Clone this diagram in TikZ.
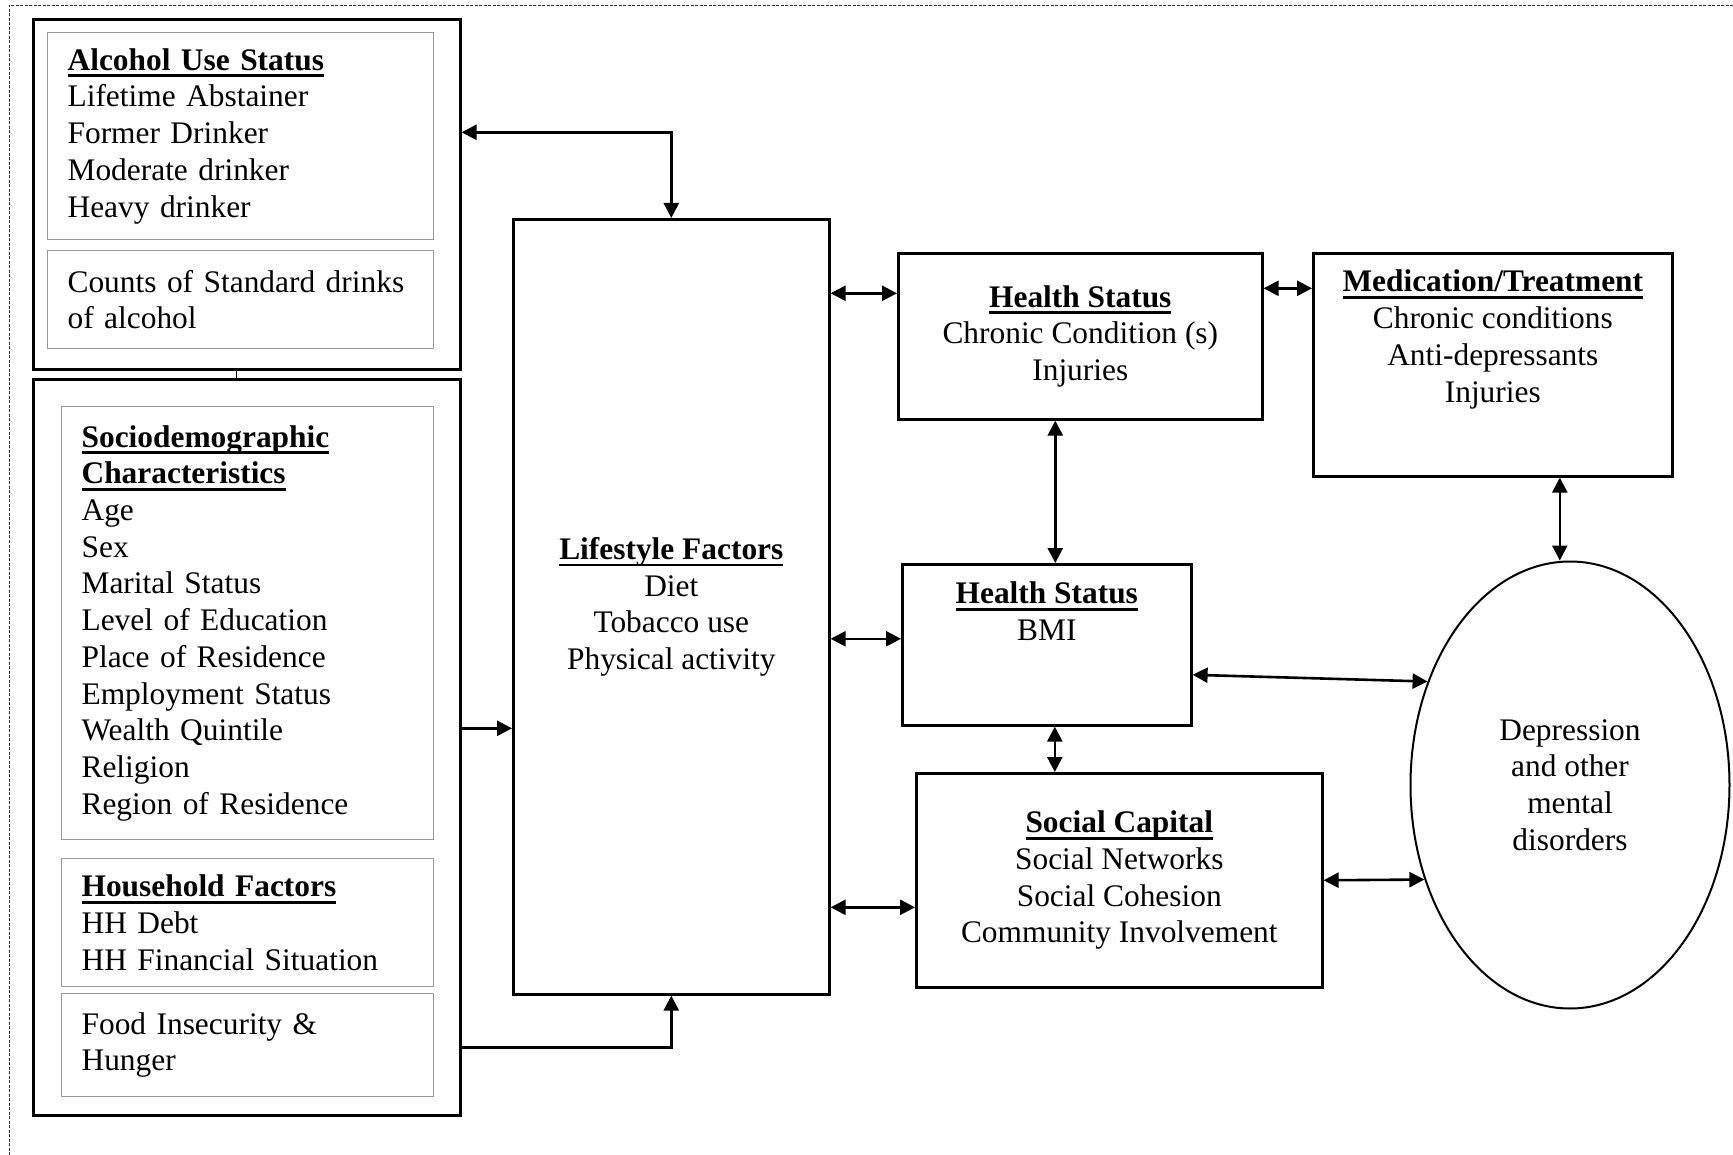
\documentclass[tikz,border=0pt]{standalone}
\usepackage{fontspec}
\setmainfont{Liberation Serif}
\usetikzlibrary{arrows.meta,shapes.geometric}

\newcommand*{\pgw}{1733}
\newcommand*{\pgh}{1155}
\newcommand*{\uhead}[1]{\textbf{\setbox0\hbox{#1}\rlap{\rule[-7pt]{\wd0}{2.8pt}}\box0}}

\begin{document}
\begin{tikzpicture}
[
	x=1pt, y=-1pt,
	font=\fontsize{31.4}{36.7}\selectfont,
	frame/.style={line width=0.9pt,black!80,dash pattern=on 3pt off 1.5pt},
	outerbox/.style={draw,line width=2.6pt,inner sep=0pt,anchor=north west},
	innerbox/.style={draw=black!40,line width=1.2pt,anchor=north west,align=left,inner xsep=20pt,inner ysep=0pt},
	rightbox/.style={draw,line width=2.6pt,anchor=north west,align=center,inner sep=0pt},
	conn/.style={line width=2.6pt,-{Triangle[length=15pt,width=15pt]}},
	dconn/.style={line width=2.6pt,{Triangle[length=15pt,width=15pt]}-{Triangle[length=15pt,width=15pt]}}
]
	\useasboundingbox (0,0) rectangle (\pgw,\pgh);

	% frame
	\draw[frame] (9,\pgh) -- (9,5) -- (\pgw,5);

	% left column
	\node[outerbox,minimum width=427pt,minimum height=350pt] at (32,18) (alcbox) {};
	\node[outerbox,minimum width=427pt,minimum height=736pt] at (32,378) (sdobox) {};
	\draw[line width=1pt] ([xshift=-10pt]alcbox.south) -- ([xshift=-10pt]sdobox.north);

	\node[innerbox,text width=346pt,minimum height=207pt] at (47,32) (alcstat)
		{\uhead{Alcohol Use Status}\\Lifetime Abstainer\\Former Drinker\\Moderate drinker\\Heavy drinker};
	\node[innerbox,text width=346pt,minimum height=98pt] at (47,250) (alcdrinks)
		{Counts of Standard drinks\\of alcohol};

	\node[innerbox,text width=332pt,minimum height=433pt] at (61,406) (sdochar)
		{\uhead{Sociodemographic}\\\uhead{Characteristics}\\Age\\Sex\\Marital Status\\Level of Education\\Place of Residence\\Employment Status\\Wealth Quintile\\Religion\\Region of Residence};
	\node[innerbox,text width=332pt,minimum height=128pt] at (61,858) (hhfac)
		{\uhead{Household Factors}\\HH Debt\\HH Financial Situation};
	\node[innerbox,text width=332pt,minimum height=103pt] at (61,993) (foodins)
		{Food Insecurity \&\\Hunger};

	% middle and right
	\node[rightbox,minimum width=316pt,minimum height=775pt] at (512,218) (life)
		{\uhead{Lifestyle Factors}\\Diet\\Tobacco use\\Physical activity};
	\node[rightbox,minimum width=364pt,minimum height=166pt] at (897,252) (hs1)
		{\uhead{Health Status}\\Chronic Condition (s)\\Injuries};
	\node[rightbox,minimum width=359pt,minimum height=223pt] at (1312,252) (med) {};
	\node[anchor=north,align=center,inner sep=0pt] at ([yshift=-18pt]med.north) (medtxt)
		{\uhead{Medication/Treatment}\\Chronic conditions\\Anti-depressants\\Injuries};
	\node[rightbox,minimum width=289pt,minimum height=161pt] at (901,563) (bmi) {};
	\node[anchor=north,align=center,inner sep=0pt] at ([yshift=-19pt]bmi.north) (bmitxt)
		{\uhead{Health Status}\\BMI};
	\node[rightbox,minimum width=406pt,minimum height=214pt] at (915,772) (soc)
		{\uhead{Social Capital}\\Social Networks\\Social Cohesion\\Community Involvement};
	\node[ellipse,draw,line width=2pt,minimum width=319pt,minimum height=447pt,align=center,inner sep=0pt] at (1570,785) (ell)
		{Depression\\and other\\mental\\disorders};

	% arrows
	\coordinate (alcout) at ([yshift=62pt]alcbox.east);
	\coordinate (sdoout) at ([yshift=19pt]sdobox.east);
	\coordinate (foodout) at ([yshift=-300pt]sdobox.east);
	\draw[dconn] (alcout) -| (life.north);
	\draw[conn] (sdoout) -- (sdoout -| life.west);
	\draw[conn] (foodout) -| (life.south);

	\coordinate (hs1in) at ([yshift=43pt]hs1.west);
	\coordinate (bmiin) at ([yshift=6pt]bmi.west);
	\coordinate (socin) at ([yshift=-27pt]soc.west);
	\draw[dconn] (hs1in -| life.east) -- (hs1in);
	\draw[dconn] (bmiin -| life.east) -- (bmiin);
	\draw[dconn] (socin -| life.east) -- (socin);

	\coordinate (hs1out) at ([yshift=48pt]hs1.east);
	\draw[dconn] (hs1out) -- (hs1out -| med.west);
	\coordinate (hs1bot) at ([xshift=-25pt]hs1.south);
	\draw[dconn] (hs1bot) -- (hs1bot |- bmi.north);
	\coordinate (bmibot) at ([xshift=8pt]bmi.south);
	\draw[dconn] (bmibot) -- (bmibot |- soc.north);
	\coordinate (medbot) at ([xshift=67pt]med.south);
	\draw[dconn] (medbot) -- (medbot |- ell.north);
	\draw[dconn] ([yshift=-30pt]bmi.east) -- (ell.144);
	\draw[dconn] (soc.east) -- (ell.213);

\end{tikzpicture}
\end{document}
